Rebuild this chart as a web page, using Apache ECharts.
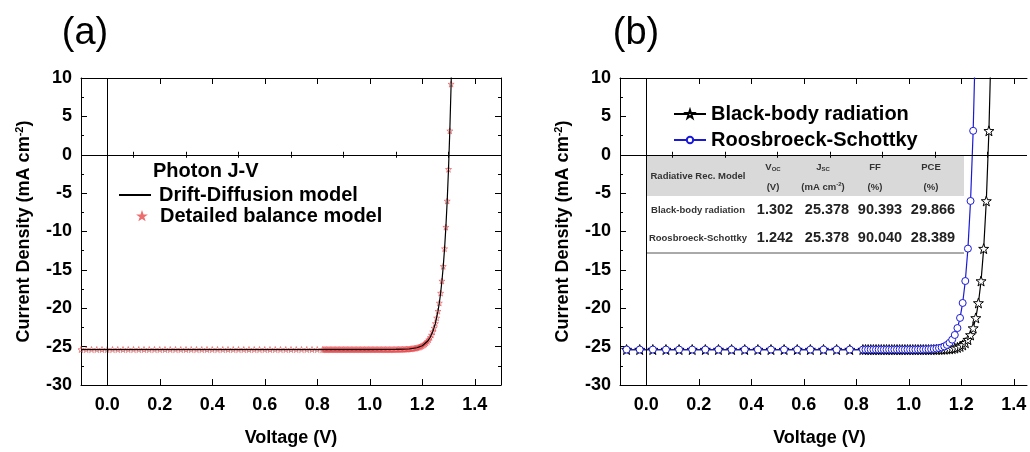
<!DOCTYPE html>
<html>
<head>
<meta charset="utf-8">
<script src="https://cdn.jsdelivr.net/npm/echarts@6/dist/echarts.min.js"></script>
<style>
html, body { margin: 0; padding: 0; background: #fff; }
#chart { width: 1030px; height: 452px; }
</style>
</head>
<body>
<div id="chart"></div>
<script>
// tick labels
const xMajorTicks = [0, 0.2, 0.4, 0.6, 0.8, 1.0, 1.2, 1.4];
const xMinorTicks = [-0.1, 0.1, 0.3, 0.5, 0.7, 0.9, 1.1, 1.3, 1.5];

// (a) Detailed balance model (stars), [V, J]
const detailedBalance = [
  [-0.10, -25.38], [-0.08, -25.38], [-0.06, -25.38], [-0.04, -25.38], [-0.02, -25.38],
  [0.00, -25.38], [0.02, -25.38], [0.04, -25.38], [0.06, -25.38], [0.08, -25.38],
  [0.10, -25.38], [0.12, -25.38], [0.14, -25.38], [0.16, -25.38], [0.18, -25.38],
  [0.20, -25.38], [0.22, -25.38], [0.24, -25.38], [0.26, -25.38], [0.28, -25.38],
  [0.30, -25.38], [0.32, -25.38], [0.34, -25.38], [0.36, -25.38], [0.38, -25.38],
  [0.40, -25.38], [0.42, -25.38], [0.44, -25.38], [0.46, -25.38], [0.48, -25.38],
  [0.50, -25.38], [0.52, -25.38], [0.54, -25.38], [0.56, -25.38], [0.58, -25.38],
  [0.60, -25.38], [0.62, -25.38], [0.64, -25.38], [0.66, -25.38], [0.68, -25.38],
  [0.70, -25.38], [0.72, -25.38], [0.74, -25.38], [0.76, -25.38], [0.78, -25.38],
  [0.80, -25.38],
  [0.820, -25.38], [0.825, -25.38], [0.830, -25.38], [0.835, -25.38], [0.840, -25.38],
  [0.845, -25.38], [0.850, -25.38], [0.855, -25.38], [0.860, -25.38], [0.865, -25.38],
  [0.870, -25.38], [0.875, -25.38], [0.880, -25.38], [0.885, -25.38], [0.890, -25.38],
  [0.895, -25.38], [0.900, -25.38], [0.905, -25.38], [0.910, -25.38], [0.915, -25.38],
  [0.920, -25.38], [0.925, -25.38], [0.930, -25.38], [0.935, -25.38], [0.940, -25.38],
  [0.945, -25.38], [0.950, -25.38], [0.955, -25.38], [0.960, -25.38], [0.965, -25.38],
  [0.970, -25.38], [0.975, -25.38], [0.980, -25.38], [0.985, -25.38], [0.990, -25.38],
  [0.995, -25.38], [1.000, -25.38], [1.005, -25.38], [1.010, -25.38], [1.015, -25.38],
  [1.020, -25.38], [1.025, -25.38], [1.030, -25.38], [1.035, -25.38], [1.040, -25.38],
  [1.045, -25.38], [1.050, -25.38], [1.055, -25.38], [1.060, -25.38], [1.065, -25.38],
  [1.070, -25.38], [1.075, -25.38], [1.080, -25.38], [1.085, -25.38], [1.090, -25.38],
  [1.095, -25.37], [1.100, -25.37], [1.105, -25.37], [1.110, -25.36], [1.115, -25.36],
  [1.120, -25.36], [1.125, -25.35], [1.130, -25.35], [1.135, -25.34], [1.140, -25.33],
  [1.145, -25.32], [1.150, -25.31], [1.155, -25.29], [1.160, -25.27], [1.165, -25.25],
  [1.170, -25.22], [1.175, -25.19], [1.180, -25.15], [1.185, -25.10], [1.190, -25.05],
  [1.195, -24.97], [1.200, -24.89], [1.205, -24.78], [1.210, -24.66], [1.215, -24.50],
  [1.220, -24.31], [1.225, -24.09], [1.230, -23.81], [1.235, -23.48], [1.240, -23.07],
  [1.245, -22.58], [1.250, -21.98], [1.255, -21.26], [1.260, -20.38], [1.265, -19.31],
  [1.270, -18.02], [1.275, -16.45], [1.280, -14.54], [1.285, -12.23], [1.290, -9.43],
  [1.295, -6.02], [1.300, -1.89], [1.305, 3.12], [1.310, 9.21], [1.315, 16.59]
];

// (a) Drift-Diffusion model (line)
const driftDiffusion = [
  [-0.10, -25.38], [0.40, -25.38], [0.80, -25.38], [1.00, -25.38], [1.10, -25.37],
  [1.15, -25.31], [1.18, -25.15], [1.20, -24.89], [1.22, -24.31], [1.23, -23.81],
  [1.24, -23.07], [1.25, -21.98], [1.26, -20.38], [1.265, -19.31], [1.27, -18.02],
  [1.275, -16.45], [1.28, -14.54], [1.285, -12.23], [1.29, -9.43], [1.295, -6.02],
  [1.30, -1.89], [1.305, 3.12], [1.31, 9.21], [1.315, 16.59]
];

// (b) Black-body radiation
const blackBody = [
  [-0.075, -25.38], [-0.025, -25.38], [0.025, -25.38], [0.075, -25.38], [0.125, -25.38],
  [0.175, -25.38], [0.225, -25.38], [0.275, -25.38], [0.325, -25.38], [0.375, -25.38],
  [0.425, -25.38], [0.475, -25.38], [0.525, -25.38], [0.575, -25.38], [0.625, -25.38],
  [0.675, -25.38], [0.725, -25.38], [0.775, -25.38],
  [0.825, -25.38], [0.835, -25.38], [0.845, -25.38], [0.855, -25.38], [0.865, -25.38],
  [0.875, -25.38], [0.885, -25.38], [0.895, -25.38], [0.905, -25.38], [0.915, -25.38],
  [0.925, -25.38], [0.935, -25.38], [0.945, -25.38], [0.955, -25.38], [0.965, -25.38],
  [0.975, -25.38], [0.985, -25.38], [0.995, -25.38], [1.005, -25.38], [1.015, -25.38],
  [1.025, -25.38], [1.035, -25.38], [1.045, -25.38], [1.055, -25.38], [1.065, -25.38],
  [1.075, -25.38], [1.085, -25.38], [1.095, -25.37], [1.105, -25.37], [1.115, -25.36],
  [1.125, -25.35], [1.135, -25.34], [1.145, -25.32], [1.155, -25.29], [1.165, -25.25],
  [1.175, -25.19], [1.185, -25.10], [1.195, -24.97], [1.205, -24.78], [1.215, -24.50],
  [1.225, -24.09], [1.235, -23.48], [1.245, -22.58], [1.255, -21.26], [1.265, -19.31],
  [1.275, -16.45], [1.285, -12.23], [1.295, -6.02], [1.305, 3.12], [1.315, 16.59]
];

// (b) Roosbroeck-Schottky
const roosbroeck = [
  [-0.075, -25.38], [-0.025, -25.38], [0.025, -25.38], [0.075, -25.38], [0.125, -25.38],
  [0.175, -25.38], [0.225, -25.38], [0.275, -25.38], [0.325, -25.38], [0.375, -25.38],
  [0.425, -25.38], [0.475, -25.38], [0.525, -25.38], [0.575, -25.38], [0.625, -25.38],
  [0.675, -25.38], [0.725, -25.38], [0.775, -25.38],
  [0.825, -25.38], [0.835, -25.38], [0.845, -25.38], [0.855, -25.38], [0.865, -25.38],
  [0.875, -25.38], [0.885, -25.38], [0.895, -25.38], [0.905, -25.38], [0.915, -25.38],
  [0.925, -25.38], [0.935, -25.38], [0.945, -25.38], [0.955, -25.38], [0.965, -25.38],
  [0.975, -25.38], [0.985, -25.38], [0.995, -25.38], [1.005, -25.38], [1.015, -25.38],
  [1.025, -25.38], [1.035, -25.37], [1.045, -25.37], [1.055, -25.36], [1.065, -25.35],
  [1.075, -25.34], [1.085, -25.32], [1.095, -25.29], [1.105, -25.25], [1.115, -25.19],
  [1.125, -25.10], [1.135, -24.97], [1.145, -24.78], [1.155, -24.50], [1.165, -24.09],
  [1.175, -23.48], [1.185, -22.58], [1.195, -21.26], [1.205, -19.31], [1.215, -16.45],
  [1.225, -12.23], [1.235, -6.02], [1.245, 3.12], [1.255, 16.59]
];

// inset table of panel (b)
const tableHead = ['Radiative Rec. Model', '{m|V}{s|OC}', '{m|J}{s|SC}', 'FF', 'PCE'];
const tableUnits = ['', '(V)', '{m|(mA cm}{p|-2}{m|)}', '(%)', '(%)'];
const tableRows = [
  ['Black-body radiation', '1.302', '25.378', '90.393', '29.866'],
  ['Roosbroeck-Schottky', '1.242', '25.378', '90.040', '28.389']
];

const F = '"Liberation Sans", Arial, sans-serif';
const STAR = 'path://M0,-10L2.35,-3.24L9.51,-3.09L3.8,1.24L5.88,8.09L0,4L-5.88,8.09L-3.8,1.24L-9.51,-3.09L-2.35,-3.24Z';
const black = { color: '#000', width: 1 };

function xAxes(g, max, namePad) {
  const major = xMajorTicks.filter(v => v <= max);
  const minor = xMinorTicks.filter(v => v <= max);
  const base = {
    type: 'value', gridIndex: g, min: -0.1, max: max,
    splitLine: { show: false },
    axisLine: { show: true, onZero: false, lineStyle: black }
  };
  return [
    Object.assign({}, base, {
      position: 'bottom',
      name: 'Voltage (V)', nameLocation: 'middle', nameGap: 44,
      nameTextStyle: { fontSize: 18, fontWeight: 'bold', color: '#000', fontFamily: F, padding: namePad },
      axisTick: { inside: true, length: 6, customValues: major, lineStyle: black },
      axisLabel: { customValues: major, formatter: v => v.toFixed(1), fontSize: 18, fontWeight: 'bold', color: '#000', fontFamily: F, margin: 11 }
    }),
    Object.assign({}, base, {
      position: 'bottom', axisLine: { show: false },
      axisTick: { inside: true, length: 3, customValues: minor, lineStyle: black },
      axisLabel: { show: false }
    }),
    Object.assign({}, base, {
      position: 'top',
      axisTick: { inside: true, length: 6, customValues: major, lineStyle: black },
      axisLabel: { show: false }
    }),
    Object.assign({}, base, {
      position: 'top', axisLine: { show: false },
      axisTick: { inside: true, length: 3, customValues: minor, lineStyle: black },
      axisLabel: { show: false }
    })
  ];
}

function yAxes(g, showRight) {
  const base = {
    type: 'value', gridIndex: g, min: -30, max: 10, interval: 5,
    splitLine: { show: false },
    axisLine: { show: true, onZero: false, lineStyle: black },
    axisTick: { inside: true, length: 6, lineStyle: black },
    minorTick: { show: true, splitNumber: 2, length: 3, lineStyle: black }
  };
  return [
    Object.assign({}, base, {
      position: 'left',
      name: '{n|Current Density (mA cm}{s|-2}{n|)}', nameLocation: 'middle', nameGap: 46,
      nameTextStyle: {
        rich: {
          n: { fontSize: 18, fontWeight: 'bold', color: '#000', fontFamily: F },
          s: { fontSize: 11, fontWeight: 'bold', color: '#000', fontFamily: F, padding: [0, 0, 10, 0] }
        }
      },
      axisLabel: { fontSize: 18, fontWeight: 'bold', color: '#000', fontFamily: F, margin: 9 }
    }),
    Object.assign({}, base, { position: 'right', show: showRight, axisLabel: { show: false } })
  ];
}

const zeroLines = {
  silent: true, symbol: ['none', 'none'], animation: false,
  label: { show: false },
  lineStyle: { color: '#000', type: 'solid', width: 1 },
  data: [{ xAxis: 0 }, { yAxis: 0 }]
};

// table graphics
const colX = [698, 773, 823, 875, 931];
const valX = [698, 775, 827, 880, 933];
const table = [
  { type: 'rect', shape: { x: 646, y: 156, width: 318, height: 40 }, style: { fill: '#d9d9d9' } },
  { type: 'line', shape: { x1: 646, y1: 253, x2: 964, y2: 253 }, style: { stroke: '#555', lineWidth: 1 } }
];
const hdrRich = {
  m: { fontSize: 9.5, fontWeight: 'bold', fontFamily: F, fill: '#333' },
  s: { fontSize: 6, fontWeight: 'bold', fontFamily: F, fill: '#333', padding: [5, 0, 0, 0] },
  p: { fontSize: 6, fontWeight: 'bold', fontFamily: F, fill: '#333', padding: [0, 0, 5, 0] }
};
tableHead.forEach((t, i) => {
  table.push({
    type: 'text', x: colX[i], y: i === 0 ? 176 : 167,
    style: { text: t, fontSize: 9.5, fontWeight: 'bold', fontFamily: F, fill: '#333', align: 'center', verticalAlign: 'middle', rich: hdrRich }
  });
  if (tableUnits[i]) {
    table.push({
      type: 'text', x: colX[i], y: 187,
      style: { text: tableUnits[i], fontSize: 9.5, fontWeight: 'bold', fontFamily: F, fill: '#333', align: 'center', verticalAlign: 'middle', rich: hdrRich }
    });
  }
});
tableRows.forEach((row, r) => {
  row.forEach((t, i) => {
    table.push({
      type: 'text', x: valX[i], y: 210 + r * 28,
      style: {
        text: t, fontSize: i === 0 ? 9.5 : 14.5, fontWeight: 'bold', fontFamily: F,
        fill: i === 0 ? '#333' : '#222', align: 'center', verticalAlign: 'middle'
      }
    });
  });
});

const chart = echarts.init(document.getElementById('chart'));
chart.setOption({
  animation: false,
  grid: [
    { left: 81, top: 78, width: 420, height: 307 },
    { left: 620, top: 78, width: 407, height: 307 }
  ],
  xAxis: xAxes(0, 1.5, [0, 0, 0, 0]).concat(xAxes(1, 1.45, [0, 8, 0, 0])),
  yAxis: yAxes(0, true).concat(yAxes(1, false)),
  legend: [
    { data: ['Drift-Diffusion model'], left: 113, top: 180, itemWidth: 32, itemHeight: 10, selectedMode: false,
      textStyle: { fontSize: 20, fontWeight: 'bold', color: '#000', fontFamily: F, padding: [0, 0, 0, 3] } },
    { data: [{ name: 'Detailed balance model', icon: STAR }], left: 133, top: 201, itemWidth: 6, itemHeight: 6, selectedMode: false,
      textStyle: { fontSize: 20, fontWeight: 'bold', color: '#000', fontFamily: F, padding: [0, 0, 0, 10] } },
    { data: ['Black-body radiation'], left: 668, top: 99, itemWidth: 32, itemHeight: 10, selectedMode: false,
      textStyle: { fontSize: 20, fontWeight: 'bold', color: '#000', fontFamily: F, padding: [0, 0, 0, 0] } },
    { data: ['Roosbroeck-Schottky'], left: 668, top: 125, itemWidth: 32, itemHeight: 8, selectedMode: false,
      textStyle: { fontSize: 20, fontWeight: 'bold', color: '#000', fontFamily: F, padding: [0, 0, 0, 0] } }
  ],
  graphic: [
    { type: 'text', x: 85, y: 34, style: { text: '(a)', fontSize: 38, fontFamily: F, fill: '#000', align: 'center', verticalAlign: 'middle' } },
    { type: 'text', x: 636, y: 34, style: { text: '(b)', fontSize: 38, fontFamily: F, fill: '#000', align: 'center', verticalAlign: 'middle' } },
    { type: 'text', x: 153, y: 171, style: { text: 'Photon J-V', fontSize: 20, fontWeight: 'bold', fontFamily: F, fill: '#000', verticalAlign: 'middle' } }
  ].concat(table),
  series: [
    {
      name: 'Detailed balance model', type: 'scatter', xAxisIndex: 0, yAxisIndex: 0,
      data: detailedBalance, symbol: STAR, symbolSize: 6, clip: true,
      itemStyle: { color: 'rgba(255,255,255,0)', borderColor: '#e8474a', borderWidth: 0.8 }
    },
    {
      name: 'Drift-Diffusion model', type: 'line', xAxisIndex: 0, yAxisIndex: 0,
      data: driftDiffusion, showSymbol: false, symbol: 'none', clip: true,
      lineStyle: { color: '#000', width: 1.2 }, itemStyle: { color: '#000', opacity: 0 },
      markLine: zeroLines
    },
    {
      name: 'Black-body radiation', type: 'line', xAxisIndex: 4, yAxisIndex: 2,
      data: blackBody, symbol: STAR, symbolSize: 10, clip: true,
      lineStyle: { color: '#000', width: 1.2 },
      itemStyle: { color: '#fff', borderColor: '#000', borderWidth: 1 },
      markLine: zeroLines
    },
    {
      name: 'Roosbroeck-Schottky', type: 'line', xAxisIndex: 4, yAxisIndex: 2,
      data: roosbroeck, symbol: 'circle', symbolSize: 7, clip: true,
      lineStyle: { color: '#1a1ad6', width: 1.2 },
      itemStyle: { color: '#fff', borderColor: '#1a1ad6', borderWidth: 1 }
    }
  ]
});
</script>
</body>
</html>
